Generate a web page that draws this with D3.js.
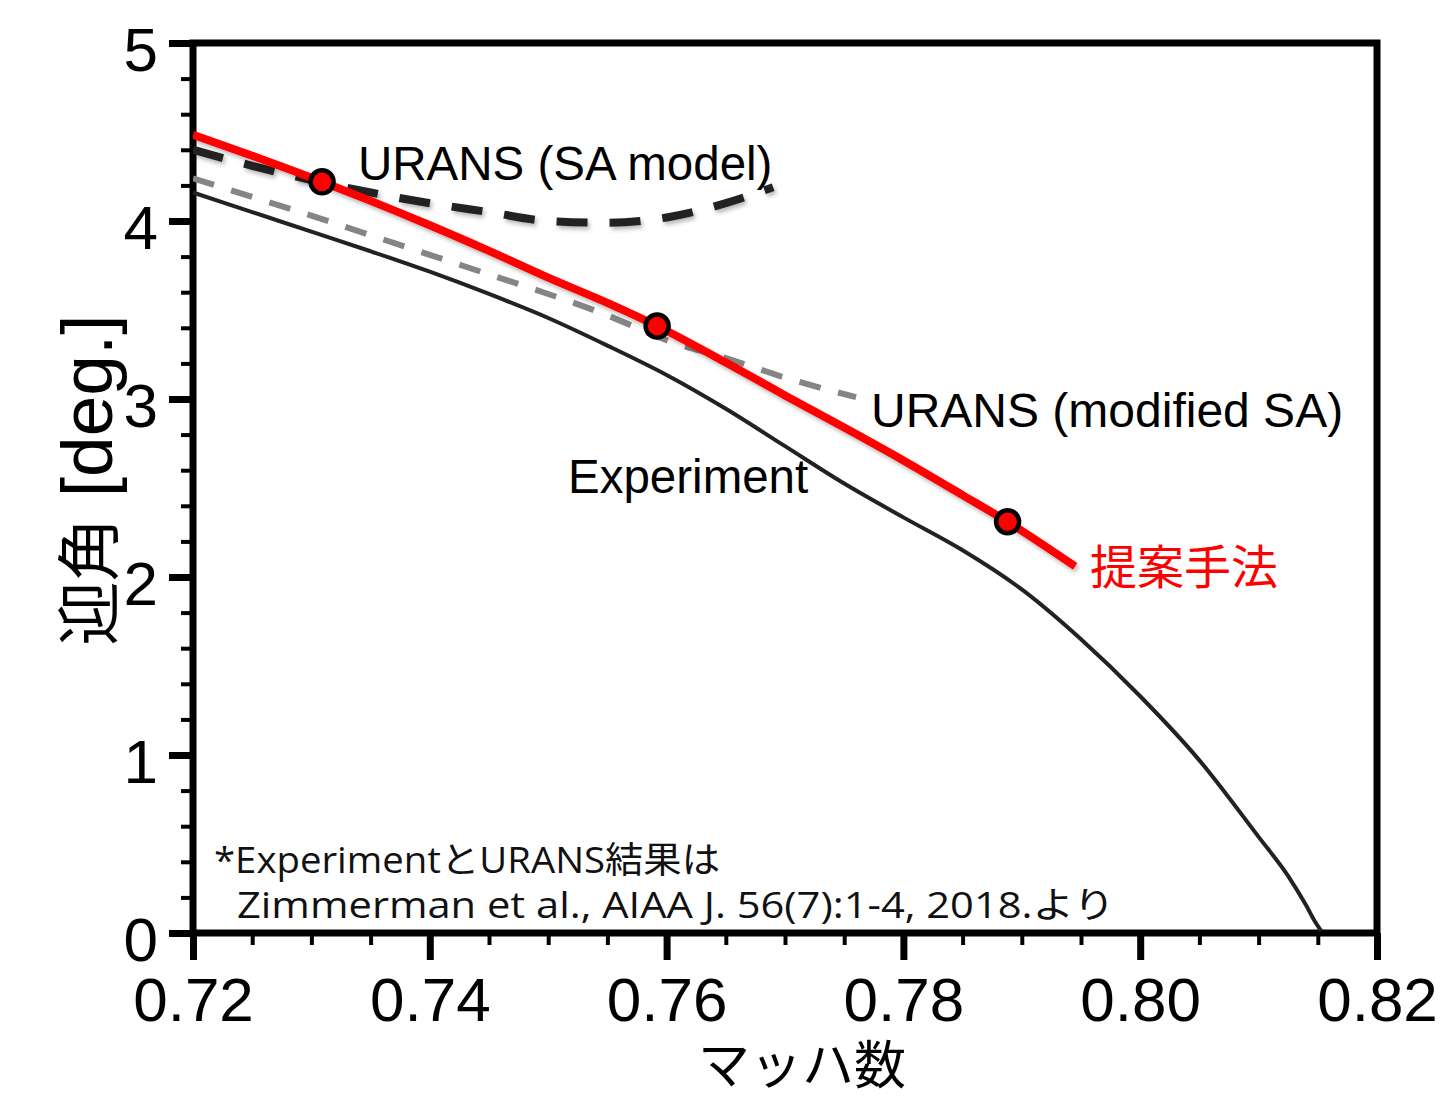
<!DOCTYPE html>
<html>
<head>
<meta charset="utf-8">
<script src="https://cdn.jsdelivr.net/npm/d3@7"></script>
<style>
  html, body { margin: 0; padding: 0; background: #fff; }
  svg { display: block; }
</style>
</head>
<body>
<svg id="chart" width="1442" height="1098"></svg>
<script>
// Mach number vs. angle of attack (buffet onset boundary)
const xTicks = [0.72, 0.74, 0.76, 0.78, 0.80, 0.82];
const xTickLabels = ["0.72", "0.74", "0.76", "0.78", "0.80", "0.82"];
const yTicks = [0, 1, 2, 3, 4, 5];
const yTickLabels = ["0", "1", "2", "3", "4", "5"];

// Experiment
const expMach  = [0.720, 0.725, 0.730, 0.735, 0.740, 0.745, 0.750, 0.755, 0.760, 0.765, 0.770, 0.775, 0.780, 0.785, 0.790, 0.795, 0.800, 0.805, 0.810, 0.8125, 0.8140, 0.8148, 0.8153];
const expAlpha = [4.16, 4.05, 3.94, 3.83, 3.715, 3.59, 3.455, 3.30, 3.135, 2.945, 2.735, 2.525, 2.335, 2.15, 1.93, 1.65, 1.33, 0.97, 0.54, 0.32, 0.157, 0.06, 0.01];

// URANS (SA model)
const saMach  = [0.720, 0.725, 0.730, 0.735, 0.740, 0.745, 0.750, 0.755, 0.760, 0.765, 0.769];
const saAlpha = [4.40, 4.31, 4.23, 4.16, 4.10, 4.05, 4.00, 3.99, 4.02, 4.10, 4.19];

// URANS (modified SA)
const msaMach  = [0.720, 0.725, 0.730, 0.735, 0.740, 0.745, 0.750, 0.755, 0.760, 0.765, 0.770, 0.776];
const msaAlpha = [4.24, 4.135, 4.03, 3.92, 3.81, 3.70, 3.59, 3.47, 3.33, 3.23, 3.12, 3.01];

// 提案手法 (proposed method) curve and its computed cases
const propMach  = [0.720, 0.725, 0.7309, 0.735, 0.740, 0.745, 0.750, 0.755, 0.7592, 0.765, 0.770, 0.775, 0.780, 0.785, 0.7888, 0.7945];
const propAlpha = [4.485, 4.366, 4.22, 4.113, 3.976, 3.832, 3.682, 3.54, 3.41, 3.205, 3.02, 2.84, 2.655, 2.46, 2.31, 2.06];
const caseMach  = [0.7309, 0.7592, 0.7888];
const caseAlpha = [4.22, 3.41, 2.31];

const svg = d3.select("#chart");
const plotL = 193, plotR = 1377, plotT = 43, plotB = 933;

const x = d3.scaleLinear().domain([0.72, 0.82]).range([plotL, plotR]);
const y = d3.scaleLinear().domain([0, 5]).range([plotB, plotT]);

const defs = svg.append("defs");
const shadow = defs.append("filter").attr("id", "shade")
  .attr("x", "-5%").attr("y", "-20%").attr("width", "110%").attr("height", "140%");
shadow.append("feDropShadow").attr("dx", 2).attr("dy", 3)
  .attr("stdDeviation", 2.2).attr("flood-color", "#000").attr("flood-opacity", 0.28);

defs.append("clipPath").attr("id", "plotclip").append("rect")
  .attr("x", plotL).attr("y", plotT).attr("width", plotR - plotL).attr("height", plotB - plotT);

const numFont = "'Liberation Sans', Arial, Helvetica, sans-serif";
const cjkFont = "'Noto Sans CJK JP', sans-serif";

// Minor ticks
const yMinor = d3.range(0, 5.0001, 0.2).map(v => +v.toFixed(1)).filter(v => !yTicks.includes(v));
const xMinor = d3.range(0.72, 0.82001, 0.005).map(v => +v.toFixed(3)).filter(v => !xTicks.some(t => Math.abs(t - v) < 1e-9));

const yMinorAxis = svg.append("g").attr("transform", `translate(${plotL},0)`)
  .call(d3.axisLeft(y).tickValues(yMinor).tickSize(12).tickFormat(""));
const xMinorAxis = svg.append("g").attr("transform", `translate(0,${plotB})`)
  .call(d3.axisBottom(x).tickValues(xMinor).tickSize(12).tickFormat(""));
[yMinorAxis, xMinorAxis].forEach(g => {
  g.select(".domain").remove();
  g.selectAll(".tick line").attr("stroke", "#000").attr("stroke-width", 4);
});

// Major ticks with labels
const yAxis = svg.append("g").attr("transform", `translate(${plotL},0)`)
  .call(d3.axisLeft(y).tickValues(yTicks).tickSize(24).tickPadding(11)
    .tickFormat((d, i) => yTickLabels[i]));
const xAxis = svg.append("g").attr("transform", `translate(0,${plotB})`)
  .call(d3.axisBottom(x).tickValues(xTicks).tickSize(27).tickPadding(16)
    .tickFormat((d, i) => xTickLabels[i]));
[yAxis, xAxis].forEach(g => {
  g.select(".domain").remove();
  g.selectAll(".tick line").attr("stroke", "#000").attr("stroke-width", 7);
  g.selectAll(".tick text").attr("fill", "#000")
    .style("font-family", numFont).style("font-size", "62px");
});
yAxis.selectAll(".tick text").attr("dy", "0.44em");
xAxis.selectAll(".tick text").attr("dy", "0.72em");

// Frame
svg.append("rect")
  .attr("x", plotL).attr("y", plotT).attr("width", plotR - plotL).attr("height", plotB - plotT)
  .attr("fill", "none").attr("stroke", "#000").attr("stroke-width", 7);

const line = d3.line().x(d => x(d[0])).y(d => y(d[1])).curve(d3.curveMonotoneX);
const plot = svg.append("g").attr("clip-path", "url(#plotclip)");

// Experiment
plot.append("path").datum(d3.zip(expMach, expAlpha))
  .attr("d", line).attr("fill", "none")
  .attr("stroke", "#222").attr("stroke-width", 4).attr("stroke-linejoin", "round");

// URANS (modified SA)
plot.append("path").datum(d3.zip(msaMach, msaAlpha))
  .attr("d", line).attr("fill", "none")
  .attr("stroke", "#858585").attr("stroke-width", 6).attr("stroke-dasharray", "22 18");

// URANS (SA model)
plot.append("path").datum(d3.zip(saMach, saAlpha))
  .attr("d", line).attr("fill", "none").attr("filter", "url(#shade)")
  .attr("stroke", "#222").attr("stroke-width", 8).attr("stroke-dasharray", "31 22");

// Proposed method
plot.append("path").datum(d3.zip(propMach, propAlpha))
  .attr("d", line).attr("fill", "none").attr("filter", "url(#shade)")
  .attr("stroke", "#ff0000").attr("stroke-width", 8).attr("stroke-linecap", "butt");

svg.append("g").selectAll("circle").data(d3.zip(caseMach, caseAlpha)).join("circle")
  .attr("cx", d => x(d[0])).attr("cy", d => y(d[1])).attr("r", 11.5)
  .attr("fill", "#ff0000").attr("stroke", "#000").attr("stroke-width", 4.5);

// Curve labels
const labels = [
  { text: "URANS (SA model)", x: 358, y: 180, color: "#000", size: 47.5, font: numFont },
  { text: "URANS (modified SA)", x: 871, y: 427, color: "#000", size: 48, font: numFont },
  { text: "Experiment", x: 568, y: 493, color: "#000", size: 47.5, font: numFont },
  { text: "提案手法", x: 1090, y: 584, color: "#ff0000", size: 47, font: cjkFont }
];
svg.append("g").selectAll("text").data(labels).join("text")
  .attr("x", d => d.x).attr("y", d => d.y).attr("fill", d => d.color)
  .style("font-family", d => d.font).style("font-size", d => d.size + "px")
  .text(d => d.text);

// Source note
const noteFont = "'Open Sans', 'Noto Sans CJK JP', sans-serif";
svg.append("text").attr("x", 214).attr("y", 873)
  .attr("textLength", 506).attr("lengthAdjust", "spacingAndGlyphs")
  .style("font-family", noteFont).style("font-size", "36px").attr("fill", "#111")
  .text("*ExperimentとURANS結果は");
svg.append("text").attr("x", 237).attr("y", 918)
  .attr("textLength", 878).attr("lengthAdjust", "spacingAndGlyphs")
  .style("font-family", noteFont).style("font-size", "36px").attr("fill", "#111")
  .text("Zimmerman et al., AIAA J. 56(7):1-4, 2018.より");

// Axis titles
svg.append("text")
  .attr("x", 802).attr("y", 1084).attr("text-anchor", "middle")
  .style("font-family", cjkFont).style("font-size", "52px").attr("fill", "#000")
  .text("マッハ数");
const yTitle = svg.append("text")
  .attr("transform", "translate(112,480) rotate(-90)").attr("text-anchor", "middle")
  .attr("fill", "#000");
yTitle.append("tspan").style("font-family", cjkFont).style("font-size", "64px").text("迎角");
yTitle.append("tspan").style("font-family", numFont).style("font-size", "73px").text(" [deg.]");
</script>
</body>
</html>
